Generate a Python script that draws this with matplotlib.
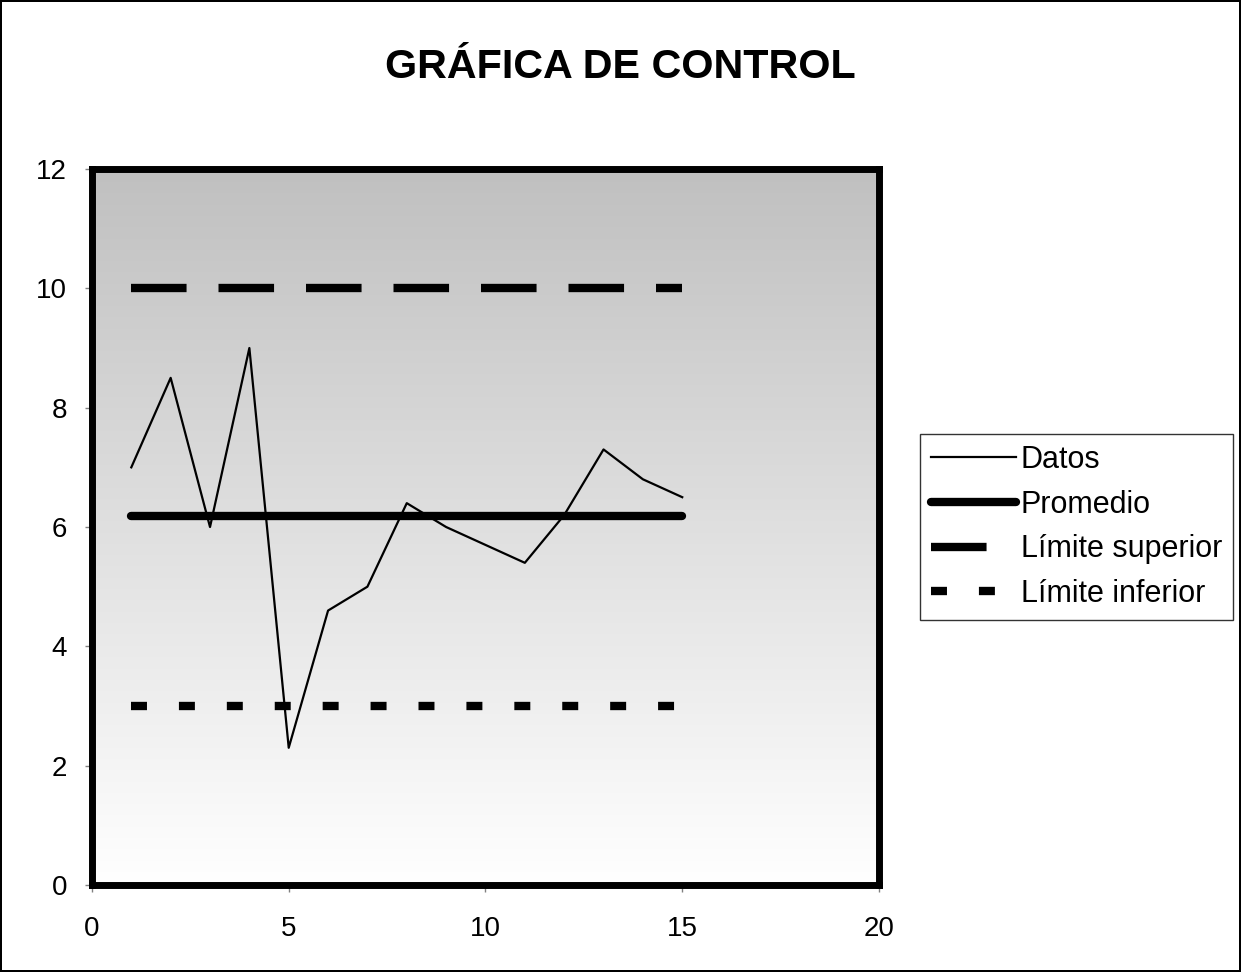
import numpy as np
import matplotlib
matplotlib.use('Agg')
import matplotlib.pyplot as plt
from matplotlib.colors import LinearSegmentedColormap

plt.rcParams['font.family'] = ['Liberation Sans', 'DejaVu Sans']
plt.rcParams['lines.scale_dashes'] = False

# data
muestra = [1, 2, 3, 4, 5, 6, 7, 8, 9, 10, 11, 12, 13, 14, 15]
datos = [7.0, 8.5, 6.0, 9.0, 2.3, 4.6, 5.0, 6.4, 6.0, 5.7, 5.4, 6.2, 7.3, 6.8, 6.5]
promedio = [np.mean(datos)] * len(muestra)
lim_sup = [10] * len(muestra)
lim_inf = [3] * len(muestra)

fig = plt.figure(figsize=(12.41, 9.72), dpi=100)
fig.patch.set_edgecolor('black')
fig.patch.set_linewidth(1.5)
ax = fig.add_axes([0.0741, 0.0895, 0.6342, 0.7366])

# gray gradient background
cmap = LinearSegmentedColormap.from_list('g', ['#ffffff', '#c0c0c0'])
grad = np.linspace(0, 1, 256).reshape(-1, 1)
ax.imshow(grad, cmap=cmap, aspect='auto', origin='lower',
          extent=[0, 20, 0, 12], zorder=0)

ax.plot(muestra, datos, color='black', lw=1.6, label='Datos', zorder=3)
ax.plot(muestra, promedio, color='black', lw=6, solid_capstyle='round',
        label='Promedio', zorder=3)
ax.plot(muestra, lim_sup, color='black', lw=6, dashes=(40, 23),
        dash_capstyle='butt', label='Límite superior', zorder=3)
ax.plot(muestra, lim_inf, color='black', lw=6, dashes=(11.5, 23),
        dash_capstyle='butt', label='Límite inferior', zorder=3)

ax.set_xlim(0, 20)
ax.set_ylim(0, 12)
ax.set_xticks([0, 5, 10, 15, 20])
ax.set_yticks([0, 2, 4, 6, 8, 10, 12])
ax.tick_params(direction='out', length=5, width=1, color='#808080',
               labelsize=20, pad=13)
ax.tick_params(axis='x', pad=17)
for s in ax.spines.values():
    s.set_linewidth(5)
    s.set_zorder(5)

fig.text(0.5, 0.931, 'GRÁFICA DE CONTROL', fontsize=29.7, fontweight='bold',
         ha='center', va='center')

leg = ax.legend(loc='center left', bbox_to_anchor=(1.052, 0.5), fontsize=22,
                frameon=True, fancybox=False, edgecolor='black',
                borderpad=0.35, labelspacing=0.48, handlelength=2.8,
                handletextpad=0.15, borderaxespad=0)
leg.get_frame().set_linewidth(1)

fig.savefig('out.png', dpi=100, edgecolor=fig.get_edgecolor())
